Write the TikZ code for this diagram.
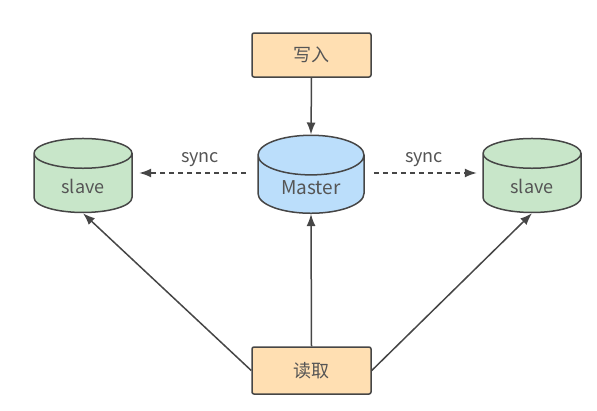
\documentclass[tikz,border=0pt]{standalone}
\usepackage{fontspec}
\setmainfont{Noto Sans CJK SC}
\usetikzlibrary{shapes.geometric,arrows.meta}
\tikzset{
    mybox/.style={draw=myline, line width=1.5pt, fill=myorange, rounded corners=2pt, text=mytext,
        minimum width=119pt, minimum height=44pt, font=\fontsize{18}{20}\selectfont},
    mydb/.style={cylinder, shape border rotate=90, draw=myline, line width=1.5pt, text=mytext,
        cylinder uses custom fill, aspect=0.6, font=\fontsize{18}{20}\selectfont},
    myarrow/.style={draw=myline, line width=1.5pt, -{Latex[length=12pt,width=9pt]}},
}
\begin{document}
\begin{tikzpicture}[x=1pt, y=-1pt]
    \definecolor{myline}{RGB}{70,70,70}
    \definecolor{mytext}{RGB}{85,85,85}
    \definecolor{myorange}{RGB}{255,223,178}
    \definecolor{myblue}{RGB}{187,222,251}
    \definecolor{mygreen}{RGB}{200,230,201}
    
    \useasboundingbox (0,0) rectangle (597,410);
    
    \node[mybox] (writebox) at (311.5,55) {写入};
    \node[mybox, minimum height=47pt] (readbox) at (311.5,370.5) {读取};
    
    \node[mydb, cylinder body fill=myblue, cylinder end fill=myblue,
        minimum width=106pt, minimum height=78pt] (master) at (311,188) {\fontsize{19}{20}\selectfont Master};
    \node[mydb, cylinder body fill=mygreen, cylinder end fill=mygreen,
        minimum width=98pt, minimum height=74pt] (slaveleft) at (83,186) {slave};
    \node[mydb, cylinder body fill=mygreen, cylinder end fill=mygreen,
        minimum width=98pt, minimum height=74pt] (slaveright) at (532,186) {slave};
    
    \draw[myarrow] (writebox.south) -- (master.north);
    \draw[myarrow] (readbox.north) -- (master.south);
    \draw[myarrow] (readbox.west) -- (slaveleft.south);
    \draw[myarrow] (readbox.east) -- (slaveright.south);
    
    \draw[myarrow, dash pattern=on 5pt off 4pt] (master.west) ++(-11,-15) coordinate (syncleft) (syncleft) -- ++(-107,0) coordinate (syncleftend);
    \draw[myarrow, dash pattern=on 5pt off 4pt] (master.east) ++(9,-15) coordinate (syncright) (syncright) -- ++(103,0) coordinate (syncrightend);
    
    \node[text=mytext, font=\fontsize{18}{20}\selectfont] (syncltext) at (200,160) {sync};
    \node[text=mytext, font=\fontsize{18}{20}\selectfont] (syncrtext) at (424,160) {sync};
\end{tikzpicture}
\end{document}
